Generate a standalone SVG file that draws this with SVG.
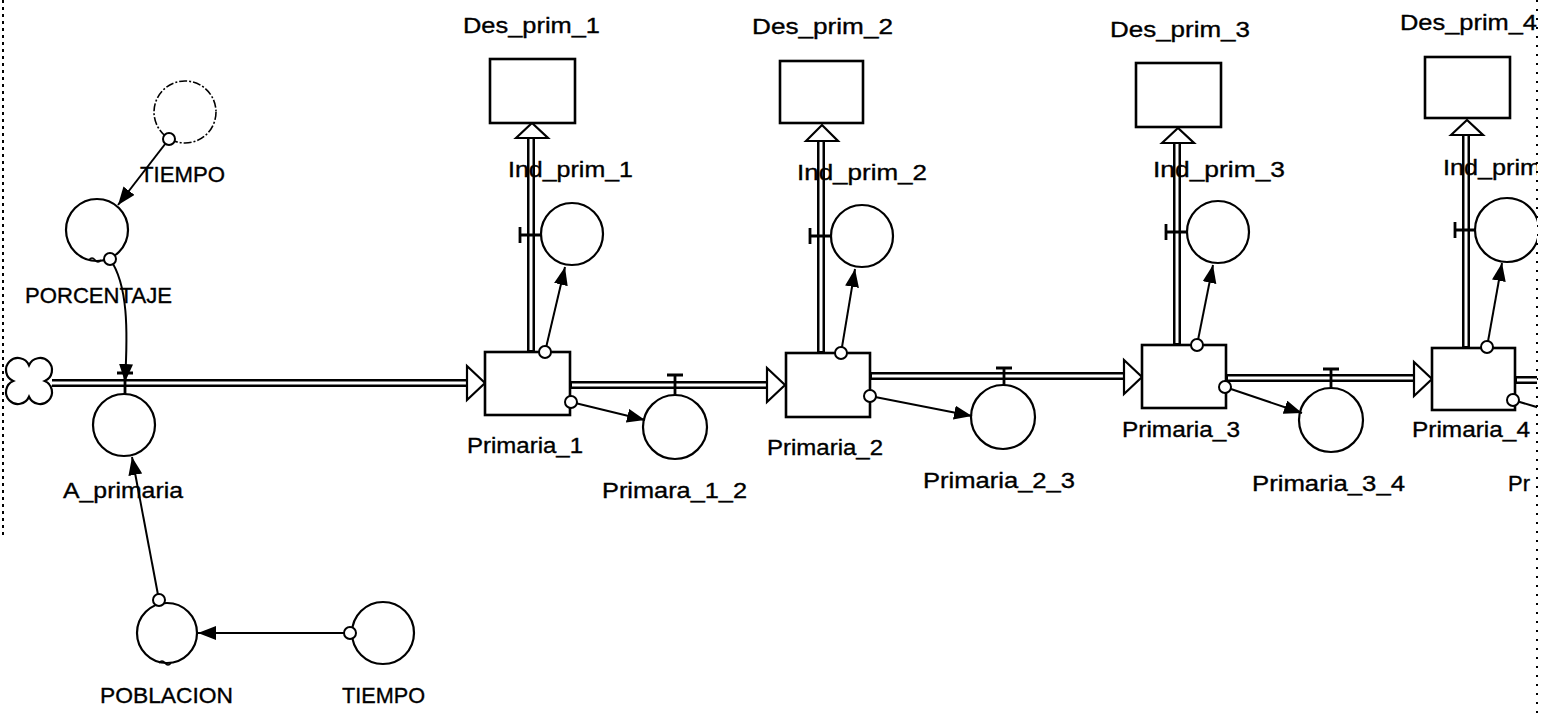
<svg xmlns="http://www.w3.org/2000/svg" width="1549" height="713" viewBox="0 0 1549 713">
<style>
text{font-family:"Liberation Sans",Arial,sans-serif;font-size:22px;fill:#000;stroke:#000;stroke-width:0.35}
.stock{fill:#fff;stroke:#000;stroke-width:2.6}
.aux{fill:#fff;stroke:#000;stroke-width:2.2}
.pipeO{fill:none;stroke:#000;stroke-width:8}
.pipeI{fill:none;stroke:#fff;stroke-width:3}
.head{fill:#fff;stroke:#000;stroke-width:2.2;stroke-linejoin:miter}
.tee{fill:none;stroke:#000;stroke-width:2.8}
.link{fill:none;stroke:#000;stroke-width:2}
.org{fill:#fff;stroke:#000;stroke-width:2}
.border{fill:none;stroke:#000;stroke-width:2}
</style>
<defs>
<marker id="ah" markerUnits="userSpaceOnUse" markerWidth="19" markerHeight="15" refX="18" refY="7" orient="auto">
<path d="M0,0 L18,7 L0,14 z" fill="#000"/>
</marker>
<clipPath id="clipR"><rect x="0" y="0" width="1537" height="713"/></clipPath>
</defs>
<rect width="1549" height="713" fill="#fff"/>
<g id="borders">
<line class="border" x1="3" y1="0" x2="3" y2="537" stroke-dasharray="3,4"/>
<line class="border" x1="1537" y1="0" x2="1537" y2="713" stroke-dasharray="2,7" stroke-width="1.6"/>
</g>

<g id="flows">
<path id="cloud" d="M29,365.2 A12,12 0 1 1 44.8,381 A12,12 0 1 1 29,396.8 A12,12 0 1 1 13.2,381 A12,12 0 1 1 29,365.2 Z" fill="#fff" stroke="#000" stroke-width="2.2"/>
<path class="pipeO" d="M52,383 H469"/><path class="pipeI" d="M50,383 H471"/>
<path class="head" d="M467,366 L485,383 L467,400 Z"/>
<path class="pipeO" d="M570,385 H769"/><path class="pipeI" d="M572,385 H771"/>
<path class="head" d="M767,368 L785,385 L767,402 Z"/>
<path class="pipeO" d="M870,376 H1125"/><path class="pipeI" d="M872,376 H1127"/>
<path class="head" d="M1124,360 L1142,377 L1124,394 Z"/>
<path class="pipeO" d="M1226,378 H1415"/><path class="pipeI" d="M1228,378 H1417"/>
<path class="head" d="M1414,362 L1432,379 L1414,396 Z"/>
<g clip-path="url(#clipR)">
<path class="pipeO" d="M1515,380 H1545"/><path class="pipeI" d="M1517,380 H1545"/>
</g>
<path class="pipeO" d="M531,351 V136"/><path class="pipeI" d="M531,350 V134"/>
<path class="head" d="M516,138 L532,123 L548,138 Z"/>
<path class="pipeO" d="M821,352 V140"/><path class="pipeI" d="M821,351 V138"/>
<path class="head" d="M806,141 L822,125 L838,141 Z"/>
<path class="pipeO" d="M1177,344 V141"/><path class="pipeI" d="M1177,343 V139"/>
<path class="head" d="M1162,143 L1178,128 L1194,143 Z"/>
<path class="pipeO" d="M1466,347 V133"/><path class="pipeI" d="M1466,346 V131"/>
<path class="head" d="M1451,135 L1467,120 L1483,135 Z"/>
</g>

<g id="A_primaria">
<path class="tee" d="M117,373 H133 M125,373 V394"/>
<circle class="aux" cx="124" cy="425" r="31"/>
<text x="63" y="498" textLength="120" lengthAdjust="spacingAndGlyphs">A_primaria</text>
</g>
<g id="PORCENTAJE">
<circle class="aux" cx="97" cy="230" r="31"/>
<path d="M89,260 q3,-4 6,0 q3,4 6,0" fill="none" stroke="#000" stroke-width="1.5"/>
<text x="25" y="303" textLength="147" lengthAdjust="spacingAndGlyphs">PORCENTAJE</text>
</g>
<g id="TIEMPO_ghost">
<circle cx="185" cy="112" r="31" fill="none" stroke="#000" stroke-width="1.6" stroke-dasharray="8,2,2,2"/>
<text x="140" y="182" textLength="85" lengthAdjust="spacingAndGlyphs">TIEMPO</text>
</g>
<g id="POBLACION">
<circle class="aux" cx="167" cy="633" r="30"/>
<path d="M159,663 q3,-4 6,0 q3,4 6,0" fill="none" stroke="#000" stroke-width="1.5"/>
<text x="100" y="703" textLength="133" lengthAdjust="spacingAndGlyphs">POBLACION</text>
</g>
<g id="TIEMPO">
<circle class="aux" cx="383" cy="633" r="31"/>
<text x="342" y="703" textLength="83" lengthAdjust="spacingAndGlyphs">TIEMPO</text>
</g>

<g id="Primaria_1">
<rect class="stock" x="485" y="352" width="85" height="63"/>
<text x="467" y="453" textLength="116" lengthAdjust="spacingAndGlyphs">Primaria_1</text>
</g>
<g id="Des_prim_1">
<rect class="stock" x="490" y="59" width="85" height="64"/>
<text x="463" y="33" textLength="137" lengthAdjust="spacingAndGlyphs">Des_prim_1</text>
</g>
<g id="Ind_prim_1">
<path class="tee" d="M520,227 V243 M520,235 H541"/>
<circle class="aux" cx="572" cy="234" r="31"/>
<text x="508" y="177" textLength="125" lengthAdjust="spacingAndGlyphs">Ind_prim_1</text>
</g>
<g id="Primara_1_2">
<path class="tee" d="M667,375 H683 M675,375 V395"/>
<circle class="aux" cx="675" cy="427" r="32"/>
<text x="602" y="498" textLength="145" lengthAdjust="spacingAndGlyphs">Primara_1_2</text>
</g>

<g id="Primaria_2">
<rect class="stock" x="786" y="353" width="84" height="64"/>
<text x="767" y="455" textLength="116" lengthAdjust="spacingAndGlyphs">Primaria_2</text>
</g>
<g id="Des_prim_2">
<rect class="stock" x="780" y="61" width="83" height="62"/>
<text x="752" y="34" textLength="141" lengthAdjust="spacingAndGlyphs">Des_prim_2</text>
</g>
<g id="Ind_prim_2">
<path class="tee" d="M810,228 V244 M810,236 H831"/>
<circle class="aux" cx="862" cy="236" r="31"/>
<text x="797" y="180" textLength="130" lengthAdjust="spacingAndGlyphs">Ind_prim_2</text>
</g>
<g id="Primaria_2_3">
<path class="tee" d="M996,368 H1012 M1004,368 V385"/>
<circle class="aux" cx="1003" cy="417" r="32"/>
<text x="923" y="488" textLength="152" lengthAdjust="spacingAndGlyphs">Primaria_2_3</text>
</g>

<g id="Primaria_3">
<rect class="stock" x="1142" y="345" width="84" height="63"/>
<text x="1122" y="437" textLength="118" lengthAdjust="spacingAndGlyphs">Primaria_3</text>
</g>
<g id="Des_prim_3">
<rect class="stock" x="1136" y="63" width="85" height="64"/>
<text x="1110" y="37" textLength="140" lengthAdjust="spacingAndGlyphs">Des_prim_3</text>
</g>
<g id="Ind_prim_3">
<path class="tee" d="M1166,224 V240 M1166,232 H1187"/>
<circle class="aux" cx="1218" cy="232" r="31"/>
<text x="1153" y="177" textLength="132" lengthAdjust="spacingAndGlyphs">Ind_prim_3</text>
</g>
<g id="Primaria_3_4">
<path class="tee" d="M1323,369 H1339 M1331,369 V388"/>
<circle class="aux" cx="1331" cy="420" r="32"/>
<text x="1252" y="491" textLength="153" lengthAdjust="spacingAndGlyphs">Primaria_3_4</text>
</g>

<g id="Primaria_4" clip-path="url(#clipR)">
<rect class="stock" x="1432" y="348" width="83" height="62"/>
<text x="1412" y="437" textLength="118" lengthAdjust="spacingAndGlyphs">Primaria_4</text>
</g>
<g id="Des_prim_4" clip-path="url(#clipR)">
<rect class="stock" x="1425" y="57" width="85" height="61"/>
<text x="1400" y="30" textLength="137" lengthAdjust="spacingAndGlyphs">Des_prim_4</text>
</g>
<g id="Ind_prim_4" clip-path="url(#clipR)">
<path class="tee" d="M1455,222 V238 M1455,230 H1475"/>
<circle class="aux" cx="1507" cy="230" r="32"/>
<text x="1443" y="175" textLength="98" lengthAdjust="spacingAndGlyphs">Ind_prim</text>
</g>
<g id="Pr_partial" clip-path="url(#clipR)">
<text x="1508" y="491">Pr</text>
</g>

<g id="connectors">
<line class="link" x1="169" y1="139" x2="118" y2="205" marker-end="url(#ah)"/>
<path class="link" d="M110,259 C128,285 128,330 125,382" marker-end="url(#ah)"/>
<line class="link" x1="159" y1="600" x2="132" y2="457" marker-end="url(#ah)"/>
<line class="link" x1="350" y1="633" x2="198" y2="633" marker-end="url(#ah)"/>
<line class="link" x1="545" y1="352" x2="565" y2="267" marker-end="url(#ah)"/>
<line class="link" x1="571" y1="402" x2="645" y2="420" marker-end="url(#ah)"/>
<line class="link" x1="841" y1="353" x2="855" y2="269" marker-end="url(#ah)"/>
<line class="link" x1="870" y1="396" x2="972" y2="416" marker-end="url(#ah)"/>
<line class="link" x1="1197" y1="345" x2="1213" y2="265" marker-end="url(#ah)"/>
<line class="link" x1="1225" y1="387" x2="1302" y2="413" marker-end="url(#ah)"/>
<line class="link" x1="1487" y1="347" x2="1502" y2="263" marker-end="url(#ah)"/>
<line class="link" x1="1513" y1="400" x2="1540" y2="408" clip-path="url(#clipR)"/>
<circle class="org" cx="169" cy="139" r="6"/>
<circle class="org" cx="110" cy="259" r="6"/>
<circle class="org" cx="159" cy="600" r="6"/>
<circle class="org" cx="350" cy="633" r="6"/>
<circle class="org" cx="545" cy="352" r="6"/>
<circle class="org" cx="571" cy="402" r="6"/>
<circle class="org" cx="841" cy="353" r="6"/>
<circle class="org" cx="870" cy="396" r="6"/>
<circle class="org" cx="1197" cy="345" r="6"/>
<circle class="org" cx="1225" cy="387" r="6"/>
<circle class="org" cx="1487" cy="347" r="6"/>
<circle class="org" cx="1513" cy="400" r="6"/>
</g>
</svg>
